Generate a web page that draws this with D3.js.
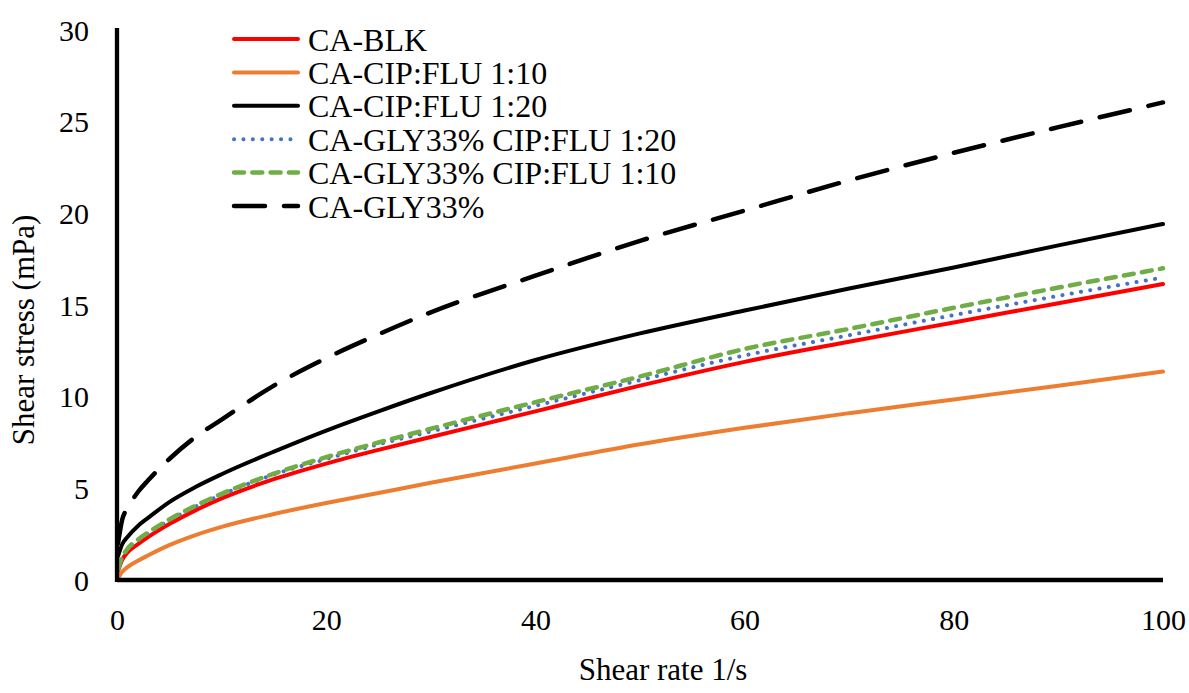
<!DOCTYPE html>
<html><head><meta charset="utf-8">
<script src="https://cdn.jsdelivr.net/npm/d3@7"></script>
<style>
html,body{margin:0;padding:0;background:#fff;}
svg text{font-family:"Liberation Serif","Times New Roman",serif;fill:#000;}
</style></head>
<body><svg id="chart" width="1189" height="693"></svg>
<script>
const shearRate = [0.1, 0.5, 1, 2, 3, 5, 7.5, 10, 15, 20, 25, 30, 40, 50, 60, 70, 80, 90, 100];
const caBlk      = [0.5, 1.1, 1.5, 1.95, 2.35, 3.05, 3.8, 4.45, 5.5, 6.35, 7.1, 7.8, 9.2, 10.6, 11.9, 13.0, 14.05, 15.1, 16.15];
const cipFlu110  = [0.1, 0.45, 0.7, 1.05, 1.35, 1.9, 2.45, 2.9, 3.6, 4.2, 4.75, 5.3, 6.35, 7.4, 8.3, 9.1, 9.85, 10.6, 11.37];
const cipFlu120  = [1.3, 1.95, 2.35, 2.95, 3.4, 4.25, 5.07, 5.77, 7.0, 8.15, 9.2, 10.2, 12.0, 13.45, 14.7, 15.9, 17.05, 18.25, 19.42];
const gly120     = [0.6, 1.25, 1.65, 2.15, 2.55, 3.25, 4.0, 4.65, 5.75, 6.6, 7.4, 8.1, 9.5, 10.9, 12.25, 13.35, 14.45, 15.5, 16.5];
const gly110     = [0.6, 1.25, 1.7, 2.2, 2.6, 3.3, 4.05, 4.7, 5.8, 6.7, 7.5, 8.25, 9.7, 11.1, 12.6, 13.7, 14.85, 15.95, 17.0];
const gly33      = [2.0, 3.3, 3.9, 4.8, 5.45, 6.6, 7.8, 8.75, 10.6, 12.1, 13.4, 14.6, 16.6, 18.5, 20.15, 21.8, 23.3, 24.7, 26.05];
const seriesNames = ["CA-BLK", "CA-CIP:FLU 1:10", "CA-CIP:FLU 1:20", "CA-GLY33% CIP:FLU 1:20", "CA-GLY33% CIP:FLU 1:10", "CA-GLY33%"];
const xTicks = [0, 20, 40, 60, 80, 100];
const yTicks = [0, 5, 10, 15, 20, 25, 30];
const xTitle = "Shear rate 1/s";
const yTitle = "Shear stress (mPa)";

const values = [caBlk, cipFlu110, cipFlu120, gly120, gly110, gly33];
const styles = [
  {color:"#FF0000", width:4, dash:null, cap:"round"},
  {color:"#ED7D31", width:4, dash:null, cap:"round"},
  {color:"#000000", width:4, dash:null, cap:"round"},
  {color:"#4472C4", width:4, dash:"0.1,9.3", cap:"round"},
  {color:"#70AD47", width:4.5, dash:"10,8.3", cap:"round"},
  {color:"#000000", width:4.5, dash:"31,19", cap:"round"}
];

const svg = d3.select("#chart");
svg.append("rect").attr("width",1189).attr("height",693).attr("fill","#fff");

const x = d3.scaleLinear().domain([0,100]).range([117,1163]);
const y = d3.scaleLinear().domain([0,30]).range([580,30]);

const line = d3.line().x(d=>x(d[0])).y(d=>y(d[1])).curve(d3.curveMonotoneX);

const g = svg.append("g");
values.forEach((vals,i)=>{
  const pts = shearRate.map((r,j)=>[r, vals[j]]);
  const s = styles[i];
  g.append("path").datum(pts).attr("d", line)
    .attr("fill","none").attr("stroke", s.color).attr("stroke-width", s.width)
    .attr("stroke-linecap", s.cap).attr("stroke-linejoin","round")
    .attr("stroke-dasharray", s.dash);
});

// axes
const xAxis = d3.axisBottom(x).tickValues(xTicks).tickSize(0).tickPadding(0).tickFormat(d3.format("d"));
const yAxis = d3.axisLeft(y).tickValues(yTicks).tickSize(0).tickPadding(0).tickFormat(d3.format("d"));
const gx = svg.append("g").attr("transform","translate(0,580)").call(xAxis);
gx.select(".domain").remove();
gx.selectAll("text").attr("font-size",30).attr("dy",null).attr("y",50).style("font-family","Liberation Serif");
const gy = svg.append("g").attr("transform","translate(117,0)").call(yAxis);
gy.select(".domain").remove();
gy.selectAll("text").attr("font-size",30).attr("x",-28).attr("dy","0.34em").style("font-family","Liberation Serif");

svg.append("line").attr("x1",x(0)).attr("x2",x(100)).attr("y1",y(0)).attr("y2",y(0))
  .attr("stroke","#000").attr("stroke-width",4.3);
svg.append("line").attr("x1",x(0)).attr("x2",x(0)).attr("y1",y(30)-2).attr("y2",y(0)+2)
  .attr("stroke","#000").attr("stroke-width",4.3);

// titles
svg.append("text").attr("x",663).attr("y",680).attr("text-anchor","middle").attr("font-size",31).text(xTitle);
svg.append("text").attr("transform","translate(34,330) rotate(-90)").attr("text-anchor","middle").attr("font-size",31).text(yTitle);

// legend
const leg = svg.append("g");
seriesNames.forEach((name,i)=>{
  const yy = 39 + i*33.4;
  const s = styles[i];
  leg.append("line").attr("x1",234).attr("x2",298).attr("y1",yy).attr("y2",yy)
    .attr("stroke",s.color).attr("stroke-width",s.width).attr("stroke-linecap",s.cap)
    .attr("stroke-dasharray", s.dash);
  leg.append("text").attr("x",308).attr("y",yy).attr("dy","0.36em").attr("font-size",32).text(name);
});
</script></body></html>
